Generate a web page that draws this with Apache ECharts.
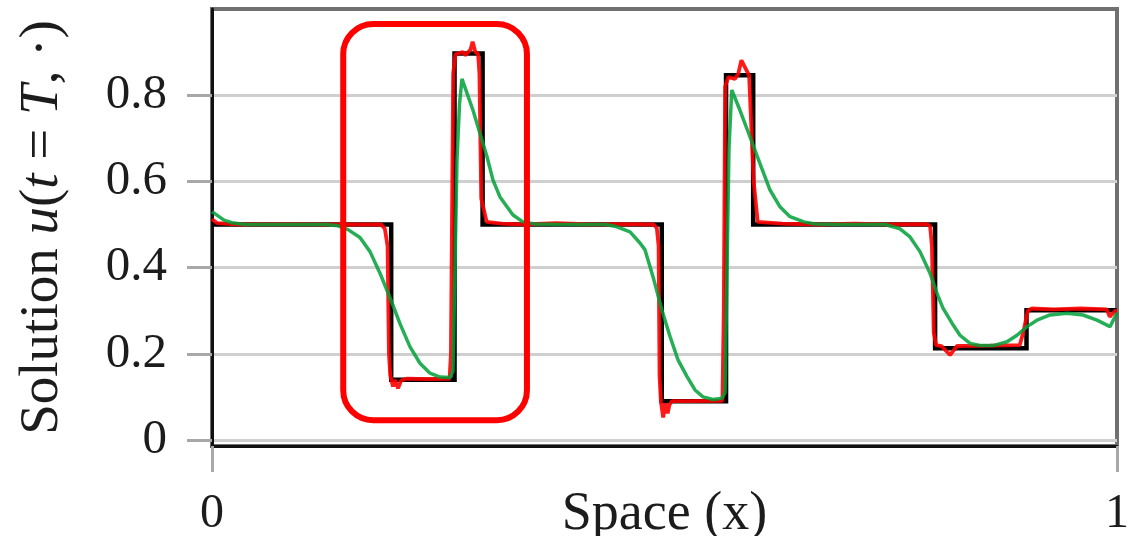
<!DOCTYPE html>
<html>
<head>
<meta charset="utf-8">
<script src="https://cdn.jsdelivr.net/npm/echarts@6/dist/echarts.min.js"></script>
<style>
  html, body { margin: 0; padding: 0; background: #ffffff; }
  #chart { width: 1145px; height: 536px; }
</style>
</head>
<body>
<div id="chart"></div>
<script>
// Exact solution: piecewise constant profile, jump locations and the levels between them
const exactJumps = [0.198, 0.268, 0.299, 0.497, 0.568, 0.598, 0.799, 0.900];
const exactLevels = [0.500, 0.140, 0.897, 0.500, 0.090, 0.846, 0.500, 0.213, 0.301];

// Sharp scheme: follows the jumps with small overshoots at the corners
const sharpX = [0.000, 0.006, 0.030, 0.080, 0.130, 0.187, 0.191, 0.194, 0.1955, 0.197, 0.200, 0.202, 0.2055, 0.209, 0.215, 0.240, 0.2625,
  0.264, 0.2665, 0.269, 0.277, 0.280, 0.2855, 0.288, 0.291, 0.294, 0.2955, 0.2975, 0.3035, 0.320, 0.345, 0.380, 0.420, 0.460, 0.488,
  0.4915, 0.4935, 0.4945, 0.496, 0.4985, 0.501, 0.5035, 0.5055, 0.508, 0.530, 0.564, 0.5655, 0.567, 0.5705, 0.578, 0.5815, 0.585,
  0.5935, 0.5955, 0.5985, 0.6030, 0.630, 0.670, 0.710, 0.750, 0.790, 0.7935, 0.7955, 0.7975, 0.800, 0.806, 0.8155, 0.823, 0.860,
  0.8925, 0.8965, 0.9015, 0.906, 0.930, 0.960, 0.9886, 0.992, 0.998, 1.000];
const sharpY = [0.512, 0.503, 0.500, 0.501, 0.500, 0.500, 0.490, 0.450, 0.200, 0.150, 0.124, 0.140, 0.120, 0.138, 0.142, 0.141, 0.142,
  0.200, 0.850, 0.895, 0.900, 0.893, 0.905, 0.924, 0.900, 0.896, 0.850, 0.560, 0.506, 0.502, 0.500, 0.503, 0.500, 0.501, 0.500,
  0.492, 0.450, 0.150, 0.090, 0.052, 0.085, 0.062, 0.082, 0.090, 0.090, 0.091, 0.300, 0.820, 0.842, 0.838, 0.850, 0.881, 0.846,
  0.842, 0.600, 0.506, 0.502, 0.500, 0.502, 0.500, 0.501, 0.496, 0.450, 0.250, 0.220, 0.218, 0.197, 0.218, 0.219,
  0.220, 0.250, 0.300, 0.305, 0.303, 0.305, 0.303, 0.286, 0.300, 0.300];

// Diffusive scheme: smooth profile with smeared jumps
const smoothX = [0.000, 0.0066, 0.0133, 0.0221, 0.0365, 0.080, 0.1249, 0.1392, 0.1503, 0.1635, 0.1746, 0.1856, 0.1967, 0.2077,
  0.2188, 0.2298, 0.2409, 0.2519, 0.263, 0.2663, 0.2685, 0.2707, 0.2735, 0.2762, 0.2884, 0.2961, 0.3039, 0.3105, 0.3182, 0.326,
  0.3326, 0.3436, 0.3569, 0.3845, 0.4343, 0.4453, 0.4619, 0.4729, 0.4785, 0.4873, 0.4972, 0.5061, 0.5149, 0.5249, 0.5337, 0.5425,
  0.5536, 0.5635, 0.5669, 0.5691, 0.5713, 0.5743, 0.5834, 0.5945, 0.6055, 0.6166, 0.6276, 0.6387, 0.6541, 0.6663, 0.6939, 0.7436,
  0.7602, 0.7713, 0.7823, 0.7934, 0.8011, 0.8077, 0.8177, 0.8265, 0.8376, 0.8486, 0.863, 0.8785, 0.8895, 0.9006, 0.9116, 0.926,
  0.9448, 0.9624, 0.9779, 0.9923, 1.000];
const smoothY = [0.530, 0.520, 0.510, 0.504, 0.500, 0.500, 0.500, 0.497, 0.488, 0.470, 0.437, 0.387, 0.330, 0.270,
  0.216, 0.178, 0.155, 0.146, 0.145, 0.160, 0.400, 0.650, 0.780, 0.838, 0.765, 0.711, 0.657, 0.603, 0.564, 0.541,
  0.522, 0.506, 0.501, 0.500, 0.500, 0.496, 0.483, 0.457, 0.441, 0.379, 0.301, 0.240, 0.186, 0.147, 0.116, 0.100,
  0.094, 0.097, 0.110, 0.400, 0.680, 0.812, 0.765, 0.703, 0.641, 0.580, 0.541, 0.518, 0.506, 0.501, 0.500, 0.500,
  0.490, 0.471, 0.437, 0.387, 0.340, 0.306, 0.271, 0.243, 0.224, 0.219, 0.219, 0.228, 0.243, 0.263, 0.278, 0.290,
  0.294, 0.290, 0.278, 0.263, 0.295];

// Tick labels
const xTicks = [0, 1];
const yTicks = [0, 0.2, 0.4, 0.6, 0.8];

// Highlighted region (data coordinates): x from, x to, y top, y bottom
const focusBox = [0.145, 0.348, 0.965, 0.046];

// Build the step polyline of the exact solution
const exactData = [[0, exactLevels[0]]];
exactJumps.forEach((xj, i) => {
  exactData.push([xj, exactLevels[i]]);
  exactData.push([xj, exactLevels[i + 1]]);
});
exactData.push([1, exactLevels[exactLevels.length - 1]]);

const sharpData = sharpX.map((x, i) => [x, sharpY[i]]);
const smoothData = smoothX.map((x, i) => [x, smoothY[i]]);

const serif = 'Liberation Serif';
const textColor = '#1c1c1c';
const nameSize = 55;

const chart = echarts.init(document.getElementById('chart'), null, { renderer: 'canvas' });

chart.setOption({
  animation: false,
  backgroundColor: '#ffffff',
  grid: [
    // data area, including the small strip below zero
    { left: 212, right: 28, top: 9, bottom: 90, outerBoundsMode: 'none', containLabel: false,
      show: true, borderColor: '#707070', borderWidth: 4, backgroundColor: 'transparent' },
    // tick/gridline area spanning 0 .. 0.8
    { left: 212, right: 28, top: 95.2, bottom: 96, outerBoundsMode: 'none', containLabel: false }
  ],
  xAxis: [
    {
      gridIndex: 0, type: 'value', min: xTicks[0], max: xTicks[xTicks.length - 1], interval: 1,
      axisLine: { show: true, onZero: false, lineStyle: { color: '#111111', width: 3 } },
      axisTick: { show: true, length: 26, lineStyle: { color: '#a8a8a8', width: 3 } },
      axisLabel: { show: true, margin: 44, fontFamily: serif, fontSize: 48, color: textColor },
      splitLine: { show: false },
      name: 'Space (x)', nameLocation: 'middle', nameGap: 42, nameMoveOverlap: false,
      nameTextStyle: { fontFamily: serif, fontSize: 54, color: textColor }
    },
    { gridIndex: 1, type: 'value', min: 0, max: 1, show: false }
  ],
  yAxis: [
    {
      gridIndex: 0, type: 'value', min: -0.014, max: 1.0,
      axisLine: { show: true, onZero: false, lineStyle: { color: '#111111', width: 3 } },
      axisTick: { show: false }, axisLabel: { show: false }, splitLine: { show: false },
      name: '{n|Solution }{i|u}{n|(}{i|t}{n| = }{i|T}{n|, ·)}', nameLocation: 'middle', nameGap: 142,
      nameMoveOverlap: false,
      nameTextStyle: {
        fontFamily: serif, fontSize: nameSize, color: textColor,
        rich: {
          n: { fontFamily: serif, fontSize: nameSize, color: textColor },
          i: { fontFamily: serif, fontSize: nameSize, fontStyle: 'italic', color: textColor }
        }
      }
    },
    {
      gridIndex: 1, type: 'value', min: yTicks[0], max: yTicks[yTicks.length - 1], interval: 0.2,
      axisLine: { show: false },
      axisTick: { show: true, length: 25, lineStyle: { color: '#a8a8a8', width: 3 } },
      axisLabel: { show: true, margin: 45, fontFamily: serif, fontSize: 49, color: textColor,
        formatter: v => (v === 0 ? '0' : v.toFixed(1)) },
      splitLine: { show: true, lineStyle: { color: '#cfcfcf', width: 3 } }
    }
  ],
  series: [
    {
      name: 'exact', type: 'line', xAxisIndex: 0, yAxisIndex: 0, data: exactData,
      showSymbol: false, symbol: 'none', z: 3,
      lineStyle: { color: '#000000', width: 4.5, join: 'miter' }
    },
    {
      name: 'sharp', type: 'line', xAxisIndex: 0, yAxisIndex: 0, data: sharpData,
      showSymbol: false, symbol: 'none', z: 4,
      lineStyle: { color: '#ff0000', width: 3.8, opacity: 0.9 }
    },
    {
      name: 'smooth', type: 'line', xAxisIndex: 0, yAxisIndex: 0, data: smoothData,
      showSymbol: false, symbol: 'none', z: 5,
      lineStyle: { color: '#00a038', width: 3.5, opacity: 0.85 }
    }
  ]
});

// Rounded frame around the first pulse, placed through the data axes
const p0 = chart.convertToPixel({ xAxisIndex: 0, yAxisIndex: 0 }, [focusBox[0], focusBox[2]]);
const p1 = chart.convertToPixel({ xAxisIndex: 0, yAxisIndex: 0 }, [focusBox[1], focusBox[3]]);
chart.setOption({
  graphic: [{
    type: 'rect', z: 100,
    shape: { x: p0[0], y: p0[1], width: p1[0] - p0[0], height: p1[1] - p0[1], r: 30 },
    style: { fill: 'none', stroke: '#ff0000', lineWidth: 6 }
  }]
});
</script>
</body>
</html>
